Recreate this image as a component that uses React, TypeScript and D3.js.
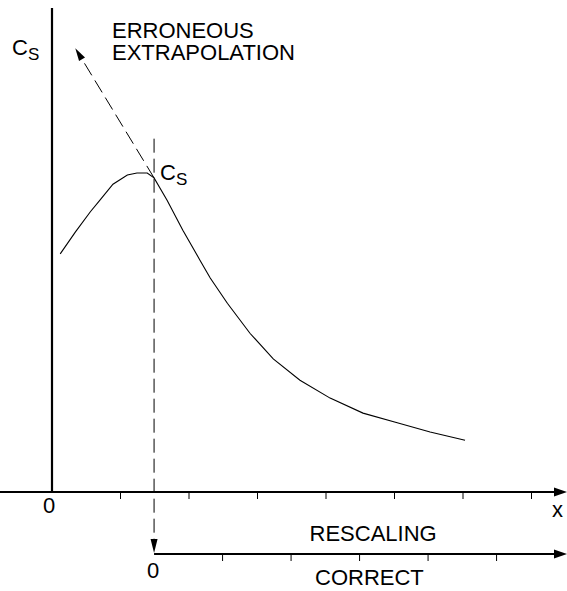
import React, { useEffect, useRef } from 'react';
import * as d3 from 'd3';

// curve C(x) (x in tick units, y in % of axis height)
const curveX = [0.12, 0.34, 0.56, 0.70, 0.89, 1.10, 1.24, 1.39, 1.49, 1.68, 1.91, 2.16, 2.31, 2.56, 2.89, 3.23, 3.62, 4.06, 4.54, 5.04, 5.52, 6.03];
const curveY = [49.2, 53.7, 57.9, 60.3, 63.6, 65.5, 65.9, 65.9, 64.9, 60.3, 54.1, 47.9, 44.2, 39.0, 32.8, 27.5, 23.1, 19.4, 16.3, 14.3, 12.4, 10.7];

// erroneous tangent extrapolation, from the Cs point up-left
const tangentX = [1.49, 0.34];
const tangentY = [64.9, 91.7];

const xSurface = 1.49;       // where the rescaled axis starts
const dashTopY = 73;         // top of the vertical dashed line
const mainTicks = [1, 2, 3, 4, 5, 6, 7];
const rescaledTicks = [1, 2, 3, 4, 5];

const W = 567;
const H = 591;
const FONT = '"Liberation Sans", Arial, sans-serif';

export default function App() {
    const svgRef = useRef<SVGSVGElement>(null);

    useEffect(() => {
        if (!svgRef.current) return;
        const svg = d3.select(svgRef.current);
        svg.selectAll('*').remove();

        const xScale = d3.scaleLinear().domain([0, 7]).range([52, 531.5]);
        const yScale = d3.scaleLinear().domain([0, 100]).range([492, 8]);
        const y0 = yScale(0);
        const lowerY = y0 + 62;
        const unit = xScale(1) - xScale(0);
        const xs = xScale(xSurface);
        const xScale2 = d3.scaleLinear().domain([0, 5]).range([xs, xs + 5 * unit]);

        const arrow = (tipX: number, tipY: number, dx: number, dy: number, len: number, half: number) => {
            const n = Math.hypot(dx, dy);
            const ux = dx / n, uy = dy / n;
            const bx = tipX - ux * len, by = tipY - uy * len;
            const pts = [
                [tipX, tipY],
                [bx - uy * half, by + ux * half],
                [bx + uy * half, by - ux * half],
            ];
            svg.append('polygon')
                .attr('points', pts.map(p => p.join(',')).join(' '))
                .attr('fill', '#000');
        };

        // y axis
        svg.append('line')
            .attr('x1', xScale(0)).attr('x2', xScale(0))
            .attr('y1', yScale(100)).attr('y2', y0)
            .attr('stroke', '#000').attr('stroke-width', 2.2);

        // main x axis
        svg.append('line')
            .attr('x1', 0).attr('x2', W - 8)
            .attr('y1', y0).attr('y2', y0)
            .attr('stroke', '#000').attr('stroke-width', 2.2);
        arrow(W, y0, 1, 0, 13, 4.5);
        svg.append('g').selectAll('line')
            .data(mainTicks).enter().append('line')
            .attr('x1', d => xScale(d)).attr('x2', d => xScale(d))
            .attr('y1', y0).attr('y2', y0 + 7)
            .attr('stroke', '#000').attr('stroke-width', 1);

        // rescaled axis
        svg.append('line')
            .attr('x1', xs).attr('x2', W - 8)
            .attr('y1', lowerY).attr('y2', lowerY)
            .attr('stroke', '#000').attr('stroke-width', 2.2);
        arrow(W, lowerY, 1, 0, 13, 4.5);
        svg.append('g').selectAll('line')
            .data(rescaledTicks).enter().append('line')
            .attr('x1', d => xScale2(d)).attr('x2', d => xScale2(d))
            .attr('y1', lowerY).attr('y2', lowerY + 7)
            .attr('stroke', '#000').attr('stroke-width', 1);

        // vertical dashed line down to the new origin
        svg.append('line')
            .attr('x1', xs).attr('x2', xs)
            .attr('y1', yScale(dashTopY)).attr('y2', lowerY - 12)
            .attr('stroke', '#000').attr('stroke-width', 1)
            .attr('stroke-dasharray', '14,6');
        arrow(xs, lowerY - 1, 0, 1, 14, 3.5);

        // erroneous extrapolation
        const tx0 = xScale(tangentX[0]), ty0 = yScale(tangentY[0]);
        const tx1 = xScale(tangentX[1]), ty1 = yScale(tangentY[1]);
        const tl = Math.hypot(tx1 - tx0, ty1 - ty0);
        const ex = tx1 - (tx1 - tx0) / tl * 11, ey = ty1 - (ty1 - ty0) / tl * 11;
        svg.append('line')
            .attr('x1', tx0).attr('y1', ty0).attr('x2', ex).attr('y2', ey)
            .attr('stroke', '#000').attr('stroke-width', 1)
            .attr('stroke-dasharray', '14,6');
        arrow(tx1, ty1, tx1 - tx0, ty1 - ty0, 13, 3.5);

        // the curve
        const line = d3.line<number>()
            .x(d => xScale(curveX[d]))
            .y(d => yScale(curveY[d]));
        svg.append('path')
            .attr('d', line(d3.range(curveX.length)))
            .attr('fill', 'none')
            .attr('stroke', '#000').attr('stroke-width', 1.1);

        const text = (x: number, y: number, s: string, anchor = 'start') =>
            svg.append('text')
                .attr('x', x).attr('y', y)
                .attr('font-family', FONT).attr('font-size', 22)
                .attr('text-anchor', anchor)
                .text(s);

        const cs = (x: number, y: number) => {
            const t = svg.append('text')
                .attr('x', x).attr('y', y)
                .attr('font-family', FONT).attr('font-size', 22);
            t.append('tspan').text('C');
            t.append('tspan').attr('dy', 5).attr('font-size', 17).text('S');
        };

        cs(12, 55);
        cs(xs + 6, ty0 + 2);
        text(112, 38, 'ERRONEOUS');
        text(112, 60, 'EXTRAPOLATION');
        text(xScale(0) - 3, y0 + 21, '0', 'middle');
        text(W - 15, y0 + 25, 'x');
        text(xScale2(2.27), lowerY - 13, 'RESCALING');
        text(xs - 1, lowerY + 24, '0', 'middle');
        text(xScale2(2.35), lowerY + 31, 'CORRECT');
    }, []);

    return (
        <svg ref={svgRef} width={W} height={H}
            style={{ position: 'absolute', left: 0, top: 0, background: '#fff' }} />
    );
}
